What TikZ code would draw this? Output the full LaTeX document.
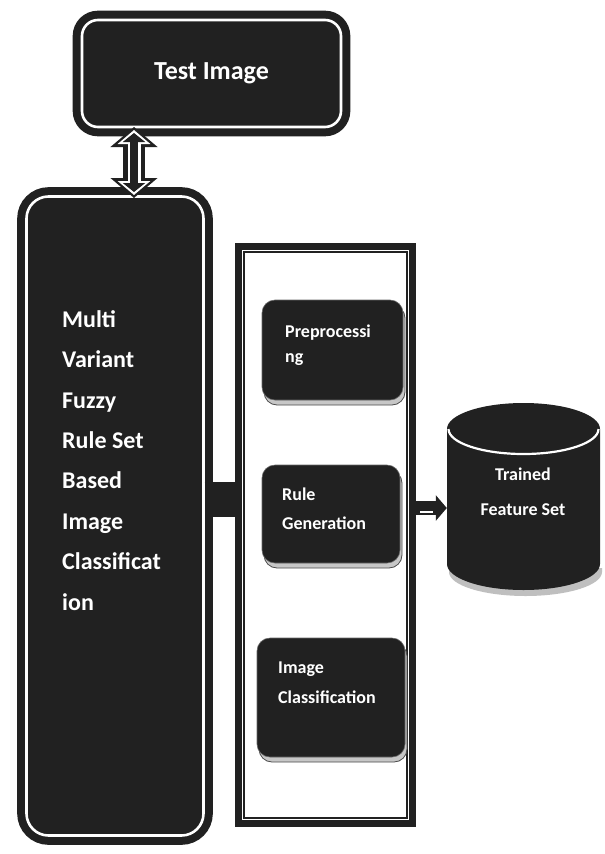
\documentclass[tikz,border=0pt]{standalone}
\usepackage{fontspec}
\setmainfont{Carlito}
\usetikzlibrary{arrows.meta,shadows,calc}
\definecolor{ink}{gray}{0.13}
\tikzset{
  bigbox/.style={rectangle, rounded corners=#1, fill=ink, draw=ink, line width=8pt,
    double=white, double distance=2.6pt, inner sep=0pt},
  innerbox/.style={rectangle, rounded corners=13pt, fill=ink, draw=black!60, line width=0.6pt,
    inner sep=0pt, general shadow={shadow xshift=2pt, shadow yshift=-5pt, fill=black!22, draw=black!70, line width=0.8pt}},
  wtxt/.style={text=white, inner sep=0pt, font=\bfseries\fontsize{18}{#1}\selectfont, align=left, anchor=base west},
}
\begin{document}
\begin{tikzpicture}[x=1pt,y=-1pt]
\useasboundingbox[fill=white] (0,0) rectangle (605,854);

% Test Image
\node[bigbox=16pt, minimum width=259pt, minimum height=107pt, text=white,
  font=\bfseries\fontsize{26}{30}\selectfont] (ti) at (211.5,73.5) {Test Image};

% Left big box
\node[bigbox=22pt, minimum width=177pt, minimum height=639pt] (lb) at (115,516) {};
\node[text=white, inner sep=0pt, font=\bfseries\fontsize{24}{40.4}\selectfont, align=left, anchor=base west]
  (lbt) at (62,610) {Multi\\Variant\\Fuzzy\\Rule Set\\Based\\Image\\Classificat\\ion};

% Middle container
\node[rectangle, draw=ink, line width=7pt, minimum width=174pt, minimum height=577pt, inner sep=0pt] (mid) at (325.5,535) {};
\draw[ink, line width=1.8pt] ([shift={(9,9)}]mid.north west) rectangle ([shift={(-9,-9)}]mid.south east);

% Inner boxes
\node[innerbox, minimum width=141pt, minimum height=100pt] (pre) at (332.5,350) {};
\node[wtxt=25] (pret) at (285,362) {Preprocessi\\ng};
\node[innerbox, minimum width=138pt, minimum height=98pt] (rg) at (331,514) {};
\node[wtxt=29] (rgt) at (282,529) {Rule\\Generation};
\node[innerbox, minimum width=148pt, minimum height=119pt] (ic) at (331,697.5) {};
\node[wtxt=30] (ict) at (278,703) {Image\\Classification};

% Cylinder (database)
\node[rectangle, minimum width=153pt, minimum height=187pt, inner sep=0pt] (db) at (523.5,496.5) {};
\fill[black!25] (449,568) -- (449,572) arc[start angle=180, end angle=0, x radius=76.5, y radius=24] -- (602,568) -- cycle;
\fill[ink] (447,429) -- (447,564) arc[start angle=180, end angle=0, x radius=76.5, y radius=26]
  -- (600,429) arc[start angle=0, end angle=-180, x radius=76.5, y radius=26] -- cycle;
\draw[white, line width=2.2pt] (448.5,429) arc[start angle=180, end angle=0, x radius=75, y radius=25];
\node[text=white, inner sep=0pt, font=\bfseries\fontsize{18}{35}\selectfont, align=center, anchor=base] (dbt) at (523,515) {Trained\\Feature Set};

% Double arrow Test Image <-> left box
\draw[ink, line width=22pt, {Triangle[width=46pt,length=20pt]}-{Triangle[width=46pt,length=20pt]}]
  ([xshift=-77.5pt, yshift=4pt]ti.south) -- ([xshift=19pt, yshift=-5.5pt]lb.north);
\draw[white, line width=13pt, shorten <=3pt, shorten >=3pt, {Triangle[width=32pt,length=14pt]}-{Triangle[width=32pt,length=14pt]}]
  ([xshift=-77.5pt, yshift=4pt]ti.south) -- ([xshift=19pt, yshift=-5.5pt]lb.north);
\draw[ink, line width=8pt, shorten <=6pt, shorten >=6pt, {Triangle[width=22pt,length=9pt]}-{Triangle[width=22pt,length=9pt]}]
  ([xshift=-77.5pt, yshift=4pt]ti.south) -- ([xshift=19pt, yshift=-5.5pt]lb.north);

% Left box -> middle container
\draw[ink, line width=35pt] ([xshift=-3pt, yshift=16.5pt]lb.east) -- ([xshift=3pt, yshift=35.5pt]mid.west);

% Middle container -> cylinder
\draw[ink, line width=14pt, -{Triangle[width=25pt,length=11pt]}]
  ([yshift=27pt]mid.east) -- ([yshift=-11.5pt]db.west);
\draw[white, line width=1.2pt, shorten >=14pt] ([xshift=4pt, yshift=23pt]mid.east) -- ([yshift=-15.5pt]db.west);
\end{tikzpicture}
\end{document}
